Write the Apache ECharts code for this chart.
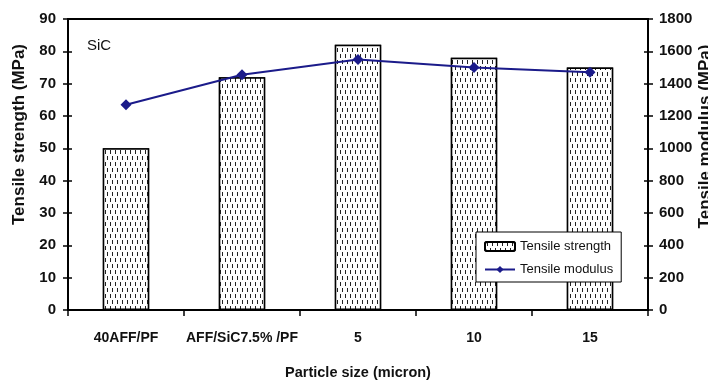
<!DOCTYPE html>
<html><head><meta charset="utf-8">
<script src="https://cdn.jsdelivr.net/npm/echarts@6/dist/echarts.min.js"></script>
<style>html,body{margin:0;padding:0;background:#fff}#c{width:708px;height:383px}</style>
</head><body><div id="c"></div>
<script>
const categories = ['40AFF/PF', 'AFF/SiC7.5% /PF', '5', '10', '15'];
const tensileStrength = [50, 72, 82, 78, 75];
const tensileModulus = [1270, 1455, 1550, 1500, 1470];
const leftTicks = [0, 90, 10];
const rightTicks = [0, 1800, 200];

const FONT = '"Liberation Sans Narrow", "Liberation Sans", Arial, sans-serif';
const tickStyle = { color: '#000', width: 1.5 };
const labelStyle = { fontFamily: FONT, fontSize: 15, fontWeight: 'bold', color: '#111', formatter: v => String(v) };
function innerTickAxis(t, pos) {
  return {
    type: 'value', min: t[0], max: t[1], interval: t[2], position: pos,
    splitLine: { show: false }, axisLine: { show: false },
    axisTick: { show: true, inside: true, length: 4, lineStyle: tickStyle },
    axisLabel: { show: false }
  };
}
const chart = echarts.init(document.getElementById('c'));
chart.setOption({
  animation: false,
  textStyle: { fontFamily: FONT },
  grid: { left: 68, right: 60, top: 19, bottom: 73, show: true, borderColor: '#000', borderWidth: 2, containLabel: false, outerBoundsMode: 'none' },
  graphic: [
    { type: 'text', left: 87, top: 38, style: { text: 'SiC', font: '15px ' + FONT, fill: '#111' } }
  ],
  legend: {
    orient: 'vertical', left: 476, top: 232, padding: [8, 8, 6, 8], itemGap: 10,
    borderColor: '#000', borderWidth: 1, backgroundColor: '#fff',
    itemWidth: 30, itemHeight: 9,
    textStyle: { fontFamily: FONT, fontSize: 13, color: '#111' },
    data: [{ name: 'Tensile strength' }, { name: 'Tensile modulus' }]
  },
  xAxis: {
    type: 'category', data: categories,
    name: 'Particle size (micron)', nameLocation: 'middle', nameGap: 55,
    nameTextStyle: { fontFamily: FONT, fontSize: 14.5, fontWeight: 'bold', color: '#111' },
    axisLine: { lineStyle: { color: '#000', width: 2 } },
    axisTick: { show: true, length: 6, lineStyle: tickStyle },
    axisLabel: { interval: 0, fontFamily: FONT, fontSize: 14, fontWeight: 'bold', color: '#111', margin: 21 }
  },
  yAxis: [
    {
      type: 'value', min: leftTicks[0], max: leftTicks[1], interval: leftTicks[2], position: 'left',
      name: 'Tensile strength (MPa)', nameLocation: 'middle', nameGap: 40, nameRotate: 90, nameMoveOverlap: false,
      nameTextStyle: { fontFamily: FONT, fontSize: 17, fontWeight: 'bold', color: '#111', padding: [0, 0, 0, 60] },
      splitLine: { show: false },
      axisLine: { show: true, lineStyle: { color: '#000', width: 2 } },
      axisTick: { show: true, length: 5, lineStyle: tickStyle },
      axisLabel: Object.assign({ margin: 12 }, labelStyle)
    },
    {
      type: 'value', min: rightTicks[0], max: rightTicks[1], interval: rightTicks[2], position: 'right',
      name: 'Tensile modulus (MPa)', nameLocation: 'middle', nameGap: 49, nameRotate: 90, nameMoveOverlap: false,
      nameTextStyle: { fontFamily: FONT, fontSize: 17, fontWeight: 'bold', color: '#111', padding: [0, 0, 0, 56] },
      splitLine: { show: false },
      axisLine: { show: true, lineStyle: { color: '#000', width: 2 } },
      axisTick: { show: true, length: 5, lineStyle: tickStyle },
      axisLabel: Object.assign({ margin: 11 }, labelStyle)
    },
    innerTickAxis(leftTicks, 'left'),
    innerTickAxis(rightTicks, 'right')
  ],
  series: [
    {
      name: 'Tensile strength', type: 'bar', data: tensileStrength, yAxisIndex: 0,
      barWidth: '40%',
      itemStyle: {
        color: '#fff', borderColor: '#000', borderWidth: 1.5,
        decal: { symbol: 'rect', symbolSize: 1, dashArrayX: [[1, 4], [0, 2, 1, 2]], dashArrayY: [4, 2], color: '#222', backgroundColor: '#fff', rotation: 0 }
      }
    },
    {
      name: 'Tensile modulus', type: 'line', data: tensileModulus, yAxisIndex: 1,
      symbol: 'diamond', symbolSize: 11,
      lineStyle: { color: '#1b1b8a', width: 2 },
      itemStyle: { color: '#1b1b8a' }
    }
  ]
});
</script></body></html>
